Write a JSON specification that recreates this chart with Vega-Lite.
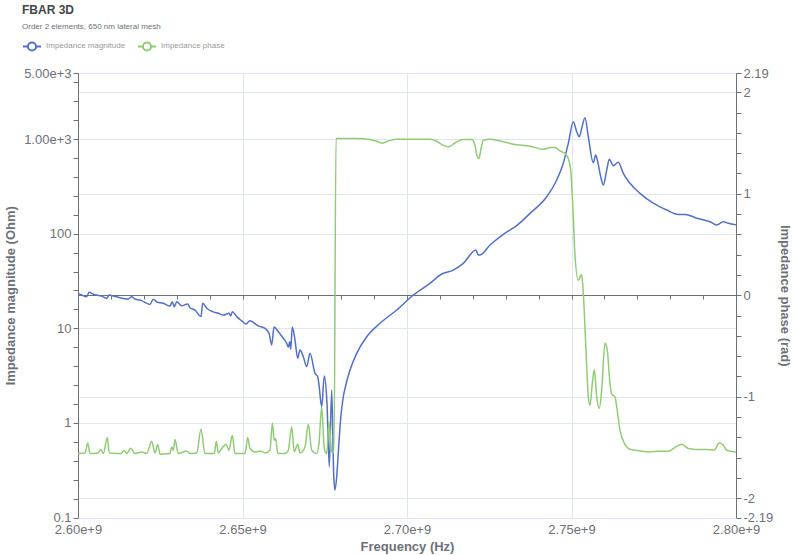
{
  "$schema": "https://vega.github.io/schema/vega-lite/v6.json",
  "width": 658,
  "height": 444.5,
  "autosize": {"type": "none"},
  "padding": {"left": 78, "top": 73, "right": 60, "bottom": 37.5},
  "background": "#ffffff",
  "config": {
    "font": "Liberation Sans",
    "view": {"stroke": null},
    "axis": {
      "labelColor": "#6e7079",
      "titleColor": "#6e7079",
      "tickColor": "#6e7079",
      "domainColor": "#6e7079",
      "gridColor": "#e0e6f1",
      "labelFontSize": 13,
      "titleFontSize": 13,
      "titleFontWeight": "bold",
      "labelFlush": false,
      "labelOverlap": false,
      "labelFont": "Liberation Sans",
      "titleFont": "Liberation Sans"
    }
  },
  "title": {
    "text": "FBAR 3D",
    "subtitle": "Order 2 elements, 650 nm lateral mesh",
    "anchor": "start",
    "frame": "group",
    "dx": -56,
    "offset": 4,
    "fontSize": 12,
    "fontWeight": "bold",
    "color": "#464646",
    "subtitleFontSize": 8,
    "subtitleColor": "#6e7079",
    "subtitlePadding": 6
  },
  "datasets": {
    "mag": [
      {"f": 2.6e9, "m": 23.4}, {"f": 2.60112e9, "m": 22.5}, {"f": 2.60264e9, "m": 21.6}, {"f": 2.60334e9, "m": 24.0},
      {"f": 2.60465e9, "m": 22.9}, {"f": 2.6072e9, "m": 21.9}, {"f": 2.60872e9, "m": 20.7}, {"f": 2.60951e9, "m": 22.5},
      {"f": 2.61073e9, "m": 21.9}, {"f": 2.61225e9, "m": 21.3}, {"f": 2.61377e9, "m": 20.7}, {"f": 2.61529e9, "m": 20.4},
      {"f": 2.61632e9, "m": 21.6}, {"f": 2.61733e9, "m": 20.4}, {"f": 2.61936e9, "m": 19.6}, {"f": 2.62188e9, "m": 17.9},
      {"f": 2.62289e9, "m": 20.3}, {"f": 2.62392e9, "m": 19.0}, {"f": 2.62593e9, "m": 18.4}, {"f": 2.62796e9, "m": 17.2},
      {"f": 2.62866e9, "m": 19.1}, {"f": 2.62927e9, "m": 16.9}, {"f": 2.63e9, "m": 19.1}, {"f": 2.63152e9, "m": 17.3},
      {"f": 2.63334e9, "m": 18.1}, {"f": 2.63404e9, "m": 16.5}, {"f": 2.63556e9, "m": 15.6}, {"f": 2.63739e9, "m": 13.3},
      {"f": 2.6379e9, "m": 18.4}, {"f": 2.63912e9, "m": 16.3}, {"f": 2.64113e9, "m": 14.9}, {"f": 2.64264e9, "m": 14.4},
      {"f": 2.64416e9, "m": 13.8}, {"f": 2.6459e9, "m": 14.4}, {"f": 2.64641e9, "m": 13.5}, {"f": 2.6469e9, "m": 15.0},
      {"f": 2.64824e9, "m": 13.3}, {"f": 2.64976e9, "m": 12.0}, {"f": 2.65097e9, "m": 11.1}, {"f": 2.65228e9, "m": 12.0},
      {"f": 2.6548e9, "m": 10.6}, {"f": 2.65684e9, "m": 10.0}, {"f": 2.65806e9, "m": 8.85}, {"f": 2.65888e9, "m": 6.66},
      {"f": 2.65958e9, "m": 10.3}, {"f": 2.66088e9, "m": 9.2}, {"f": 2.6624e9, "m": 7.84}, {"f": 2.66344e9, "m": 6.94},
      {"f": 2.66392e9, "m": 6.3}, {"f": 2.66435e9, "m": 7.22}, {"f": 2.66465e9, "m": 6.0}, {"f": 2.66514e9, "m": 10.3},
      {"f": 2.66596e9, "m": 7.52}, {"f": 2.66678e9, "m": 4.82}, {"f": 2.66748e9, "m": 5.9}, {"f": 2.66848e9, "m": 5.01},
      {"f": 2.66951e9, "m": 3.93}, {"f": 2.67052e9, "m": 5.44}, {"f": 2.67204e9, "m": 3.34}, {"f": 2.67286e9, "m": 3.08},
      {"f": 2.67325e9, "m": 2.52}, {"f": 2.67407e9, "m": 1.48}, {"f": 2.67486e9, "m": 3.13}, {"f": 2.67568e9, "m": 1.61},
      {"f": 2.67638e9, "m": 0.344}, {"f": 2.67711e9, "m": 2.23}, {"f": 2.67772e9, "m": 0.281}, {"f": 2.67811e9, "m": 0.195},
      {"f": 2.67863e9, "m": 0.27}, {"f": 2.67912e9, "m": 0.481}, {"f": 2.67964e9, "m": 0.912}, {"f": 2.68064e9, "m": 1.89},
      {"f": 2.68116e9, "m": 2.32}, {"f": 2.68268e9, "m": 3.62}, {"f": 2.68471e9, "m": 5.44}, {"f": 2.68775e9, "m": 8.15},
      {"f": 2.69179e9, "m": 11.3}, {"f": 2.69687e9, "m": 15.6}, {"f": 2.70192e9, "m": 22.5}, {"f": 2.70699e9, "m": 29.9},
      {"f": 2.71055e9, "m": 37.5}, {"f": 2.71408e9, "m": 41.3}, {"f": 2.71711e9, "m": 48.6}, {"f": 2.72097e9, "m": 67.3},
      {"f": 2.72167e9, "m": 59.6}, {"f": 2.72219e9, "m": 59.6}, {"f": 2.72523e9, "m": 76.0}, {"f": 2.72927e9, "m": 98.6},
      {"f": 2.73334e9, "m": 122}, {"f": 2.73739e9, "m": 164}, {"f": 2.74246e9, "m": 246}, {"f": 2.7455e9, "m": 370},
      {"f": 2.74751e9, "m": 555}, {"f": 2.74903e9, "m": 903}, {"f": 2.75055e9, "m": 1528}, {"f": 2.75158e9, "m": 1197},
      {"f": 2.75237e9, "m": 1060}, {"f": 2.7531e9, "m": 1300}, {"f": 2.7541e9, "m": 1683}, {"f": 2.75511e9, "m": 1060},
      {"f": 2.75663e9, "m": 563}, {"f": 2.75736e9, "m": 679}, {"f": 2.75785e9, "m": 601}, {"f": 2.75888e9, "m": 401},
      {"f": 2.75967e9, "m": 327}, {"f": 2.7607e9, "m": 471}, {"f": 2.76149e9, "m": 611}, {"f": 2.76271e9, "m": 524},
      {"f": 2.76423e9, "m": 569}, {"f": 2.76574e9, "m": 435}, {"f": 2.76778e9, "m": 341}, {"f": 2.77082e9, "m": 267},
      {"f": 2.77486e9, "m": 210}, {"f": 2.77894e9, "m": 178}, {"f": 2.78246e9, "m": 160}, {"f": 2.7845e9, "m": 160},
      {"f": 2.78806e9, "m": 146}, {"f": 2.7921e9, "m": 134}, {"f": 2.79414e9, "m": 124}, {"f": 2.79614e9, "m": 134},
      {"f": 2.79766e9, "m": 129}, {"f": 2.8e9, "m": 124}
    ],
    "phase": [
      {"f": 2.6e9, "p": -1.56}, {"f": 2.60213e9, "p": -1.554}, {"f": 2.60295e9, "p": -1.455}, {"f": 2.60365e9, "p": -1.56},
      {"f": 2.60608e9, "p": -1.554}, {"f": 2.6069e9, "p": -1.52}, {"f": 2.60769e9, "p": -1.56}, {"f": 2.60891e9, "p": -1.402},
      {"f": 2.60951e9, "p": -1.554}, {"f": 2.61307e9, "p": -1.56}, {"f": 2.61398e9, "p": -1.527}, {"f": 2.6148e9, "p": -1.56},
      {"f": 2.61602e9, "p": -1.507}, {"f": 2.61733e9, "p": -1.56}, {"f": 2.61936e9, "p": -1.544}, {"f": 2.62088e9, "p": -1.56},
      {"f": 2.6224e9, "p": -1.438}, {"f": 2.6234e9, "p": -1.554}, {"f": 2.62422e9, "p": -1.471}, {"f": 2.62492e9, "p": -1.567},
      {"f": 2.62796e9, "p": -1.56}, {"f": 2.62848e9, "p": -1.495}, {"f": 2.62897e9, "p": -1.527}, {"f": 2.62948e9, "p": -1.422},
      {"f": 2.63049e9, "p": -1.56}, {"f": 2.63304e9, "p": -1.534}, {"f": 2.63404e9, "p": -1.56}, {"f": 2.63608e9, "p": -1.554},
      {"f": 2.63739e9, "p": -1.32}, {"f": 2.6386e9, "p": -1.56}, {"f": 2.64143e9, "p": -1.56}, {"f": 2.64204e9, "p": -1.438},
      {"f": 2.64264e9, "p": -1.554}, {"f": 2.64368e9, "p": -1.51}, {"f": 2.64499e9, "p": -1.468}, {"f": 2.6459e9, "p": -1.527},
      {"f": 2.6469e9, "p": -1.379}, {"f": 2.64772e9, "p": -1.56}, {"f": 2.65076e9, "p": -1.56}, {"f": 2.65158e9, "p": -1.402},
      {"f": 2.65228e9, "p": -1.51}, {"f": 2.6538e9, "p": -1.544}, {"f": 2.65532e9, "p": -1.534}, {"f": 2.65684e9, "p": -1.554},
      {"f": 2.65836e9, "p": -1.527}, {"f": 2.65906e9, "p": -1.258}, {"f": 2.65967e9, "p": -1.429}, {"f": 2.66009e9, "p": -1.412},
      {"f": 2.6607e9, "p": -1.56}, {"f": 2.66292e9, "p": -1.56}, {"f": 2.66392e9, "p": -1.527}, {"f": 2.66495e9, "p": -1.298},
      {"f": 2.66574e9, "p": -1.544}, {"f": 2.66678e9, "p": -1.468}, {"f": 2.66748e9, "p": -1.554}, {"f": 2.669e9, "p": -1.495},
      {"f": 2.67e9, "p": -1.271}, {"f": 2.67103e9, "p": -1.527}, {"f": 2.67255e9, "p": -1.56}, {"f": 2.67325e9, "p": -1.461},
      {"f": 2.67407e9, "p": -1.1}, {"f": 2.67486e9, "p": -1.51}, {"f": 2.67559e9, "p": -1.56}, {"f": 2.67629e9, "p": -1.248},
      {"f": 2.67711e9, "p": -1.544}, {"f": 2.67781e9, "p": -1.547}, {"f": 2.67842e9, "p": 1.544}, {"f": 2.68471e9, "p": 1.544},
      {"f": 2.68875e9, "p": 1.534}, {"f": 2.69079e9, "p": 1.517}, {"f": 2.69231e9, "p": 1.498}, {"f": 2.69432e9, "p": 1.52},
      {"f": 2.69687e9, "p": 1.537}, {"f": 2.70699e9, "p": 1.537}, {"f": 2.70903e9, "p": 1.517}, {"f": 2.71103e9, "p": 1.478},
      {"f": 2.71255e9, "p": 1.461}, {"f": 2.71459e9, "p": 1.5}, {"f": 2.71711e9, "p": 1.534}, {"f": 2.71967e9, "p": 1.534},
      {"f": 2.72067e9, "p": 1.478}, {"f": 2.72119e9, "p": 1.379}, {"f": 2.72188e9, "p": 1.347}, {"f": 2.7224e9, "p": 1.429},
      {"f": 2.72319e9, "p": 1.527}, {"f": 2.72523e9, "p": 1.537}, {"f": 2.72827e9, "p": 1.52}, {"f": 2.73231e9, "p": 1.488},
      {"f": 2.73739e9, "p": 1.468}, {"f": 2.74143e9, "p": 1.438}, {"f": 2.74347e9, "p": 1.455}, {"f": 2.74499e9, "p": 1.455},
      {"f": 2.7465e9, "p": 1.422}, {"f": 2.74802e9, "p": 1.396}, {"f": 2.74903e9, "p": 1.347}, {"f": 2.74976e9, "p": 1.232},
      {"f": 2.75036e9, "p": 0.903}, {"f": 2.75106e9, "p": 0.394}, {"f": 2.75207e9, "p": 0.148}, {"f": 2.7531e9, "p": 0.204},
      {"f": 2.75359e9, "p": 0.017}, {"f": 2.75441e9, "p": -0.542}, {"f": 2.75511e9, "p": -1.002}, {"f": 2.75562e9, "p": -1.084},
      {"f": 2.75632e9, "p": -0.87}, {"f": 2.75693e9, "p": -0.732}, {"f": 2.75766e9, "p": -1.002}, {"f": 2.75845e9, "p": -1.116},
      {"f": 2.75918e9, "p": -0.936}, {"f": 2.76018e9, "p": -0.47}, {"f": 2.76088e9, "p": -0.542}, {"f": 2.7617e9, "p": -0.87},
      {"f": 2.76222e9, "p": -0.975}, {"f": 2.76322e9, "p": -1.002}, {"f": 2.76374e9, "p": -1.1}, {"f": 2.76474e9, "p": -1.33},
      {"f": 2.76626e9, "p": -1.471}, {"f": 2.76778e9, "p": -1.517}, {"f": 2.77082e9, "p": -1.534}, {"f": 2.77334e9, "p": -1.544},
      {"f": 2.7769e9, "p": -1.537}, {"f": 2.77942e9, "p": -1.537}, {"f": 2.78146e9, "p": -1.5}, {"f": 2.7835e9, "p": -1.468},
      {"f": 2.7855e9, "p": -1.51}, {"f": 2.78805e9, "p": -1.52}, {"f": 2.79109e9, "p": -1.52}, {"f": 2.79331e9, "p": -1.527},
      {"f": 2.79492e9, "p": -1.455}, {"f": 2.79614e9, "p": -1.478}, {"f": 2.79717e9, "p": -1.527}, {"f": 2.8e9, "p": -1.544}
    ]
  },
  "layer": [
    {
      "data": {"name": "mag"},
      "mark": {"type": "line", "strokeWidth": 1.5, "interpolate": "monotone"},
      "encoding": {
        "x": {
          "field": "f", "type": "quantitative",
          "scale": {"domain": [2.6e9, 2.8e9], "nice": false, "zero": false},
          "axis": {
            "orient": "bottom", "title": "Frequency (Hz)",
            "values": [2.6e9, 2.65e9, 2.7e9, 2.75e9, 2.8e9],
            "labelExpr": "format(datum.value, '.2e')",
            "domain": false, "ticks": false, "grid": true,
            "labelPadding": 6, "titlePadding": 4
          }
        },
        "y": {
          "field": "m", "type": "quantitative",
          "scale": {"type": "log", "domain": [0.1, 5000], "nice": false},
          "axis": {
            "orient": "left", "title": "Impedance magnitude (Ohm)",
            "values": [0.1, 0.158, 0.251, 0.398, 0.631, 1, 1.585, 2.512, 3.981, 6.31, 10, 15.85, 25.12, 39.81, 63.1, 100, 158.5, 251.2, 398.1, 631, 1000, 1585, 2512, 3981, 5000],
            "labelExpr": "datum.value >= 1000 && indexof([1000,5000], datum.value) >= 0 ? format(datum.value, '.2e') : (indexof([0.1,1,10,100], datum.value) >= 0 ? toString(datum.value) : '')",
            "grid": true,
            "gridOpacity": {"condition": {"test": "indexof([0.1,1,10,100,1000,5000], datum.value) >= 0", "value": 1}, "value": 0},
            "tickSize": 5, "labelPadding": 2, "titlePadding": 6,
            "domain": true
          }
        },
        "color": {
          "datum": "Impedance magnitude",
          "scale": {"domain": ["Impedance magnitude", "Impedance phase"], "range": ["#5470c6", "#91cc75"]},
          "legend": {
            "orient": "none", "legendX": -56, "legendY": -37, "direction": "horizontal", "title": null,
            "symbolType": "M-1,0L-0.45,0M0.45,0L1,0M0.45,0A0.45,0.45 0 1,1 -0.45,0A0.45,0.45 0 1,1 0.45,0",
            "symbolSize": 324, "symbolStrokeWidth": 2, "symbolFillColor": "#ffffff",
            "labelFontSize": 8, "labelColor": "#999999", "labelOffset": 4, "columnPadding": 8, "padding": 0
          }
        }
      }
    },
    {
      "data": {"name": "phase"},
      "mark": {"type": "line", "strokeWidth": 1.5, "interpolate": "monotone"},
      "encoding": {
        "x": {
          "field": "f", "type": "quantitative",
          "axis": {
            "orient": "bottom", "offset": -222.5, "title": null, "labels": false, "grid": false,
            "values": [2.6e9, 2.61e9, 2.62e9, 2.63e9, 2.64e9, 2.65e9, 2.66e9, 2.67e9, 2.68e9, 2.69e9, 2.7e9, 2.71e9, 2.72e9, 2.73e9, 2.74e9, 2.75e9, 2.76e9, 2.77e9, 2.78e9, 2.79e9, 2.8e9],
            "tickSize": 4, "domain": true
          }
        },
        "y": {
          "field": "p", "type": "quantitative",
          "scale": {"domain": [-2.19, 2.19], "nice": false, "zero": false},
          "axis": {
            "orient": "right", "title": "Impedance phase (rad)",
            "values": [-2.19, -2, -1.8, -1.6, -1.4, -1.2, -1, -0.8, -0.6, -0.4, -0.2, 0, 0.2, 0.4, 0.6, 0.8, 1, 1.2, 1.4, 1.6, 1.8, 2, 2.19],
            "labelExpr": "(datum.value == round(datum.value) || abs(datum.value) == 2.19) ? toString(datum.value) : ''",
            "grid": true,
            "gridOpacity": {"condition": {"test": "datum.value == round(datum.value) || abs(datum.value) == 2.19", "value": 1}, "value": 0},
            "tickSize": 5, "labelPadding": 2, "titlePadding": 5
          }
        },
        "color": {"datum": "Impedance phase"}
      }
    }
  ],
  "resolve": {"scale": {"y": "independent"}, "axis": {"x": "independent"}}
}
